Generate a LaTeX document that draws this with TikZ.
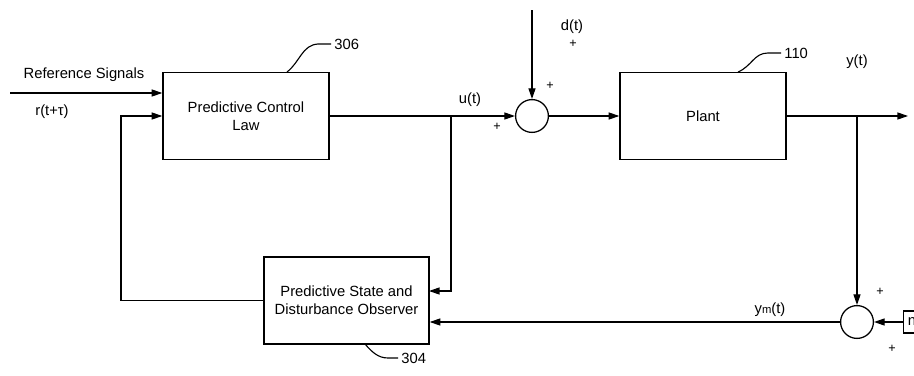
\documentclass[tikz,border=0pt]{standalone}
\usepackage{fontspec}
\setmainfont{Liberation Sans}
\usetikzlibrary{arrows.meta,positioning}

\begin{document}
\begin{tikzpicture}[x=0.025cm,y=-0.025cm,
		every node/.style={font=\fontsize{10.5}{12.5}\selectfont},
		block/.style={draw,line width=1pt,align=center,minimum width=4.15cm,minimum height=2.175cm},
		sumnode/.style={draw,circle,line width=0.9pt,minimum size=0.82cm,inner sep=0pt},
		sig/.style={line width=0.8pt,-{Triangle[length=7.5pt,width=5pt]}},
		tag/.style={line width=0.8pt},
		sgn/.style={inner sep=0pt,font=\fontsize{9}{10}\selectfont}]
	\clip (0,0) rectangle (914,375);
	% blocks
	\node[block] (pcl) at (246,116) {Predictive Control\\Law};
	\node[block] (plant) at (703,116) {Plant};
	\node[block, minimum width=4.125cm] (obs) at (346.5,300.5) {Predictive State and\\Disturbance Observer};
	\node[block, minimum width=0pt, minimum height=0.55cm, inner xsep=3pt, anchor=west] (nbox) at (903,322) {n};
	% summing junctions
	\node[sumnode] (sum1) at (532,116) {};
	\node[sumnode] (sum2) at (857,322) {};
	
	% reference input
	\coordinate (refin) at (10,93);
	\draw[sig] (refin) -- (pcl.west |- refin);
	\node at (84,75) {Reference Signals};
	\node at (52,112) {r(t+τ)};
	
	% control signal
	\coordinate (ubr) at (451,116);
	\coordinate (obsin) at (429,291);
	\draw[sig] (pcl.east) -- (sum1.west);
	\draw[sig] (ubr) |- (obsin);
	\node at (470,100) {u(t)};
	\node[sgn] at (497,127) {+};
	
	% disturbance
	\coordinate (din) at (532,10);
	\draw[sig] (din) -- (sum1.north);
	\node at (572,27) {d(t)};
	\node[sgn] at (573,44) {+};
	\node[sgn] at (550,86) {+};
	
	% plant and output
	\coordinate (yout) at (908,116);
	\coordinate (ybr) at (857,116);
	\draw[sig] (sum1.east) -- (plant.west);
	\draw[sig] (plant.east) -- (yout);
	\node at (857,62) {y(t)};
	
	% measurement
	\draw[sig] (ybr) -- (sum2.north);
	\draw[sig] (nbox.west) -- (sum2.east);
	\draw[sig] (sum2.west) -- (obs.east |- sum2);
	\node at (770,310) {y{\footnotesize m}(t)};
	\node[sgn] at (880,292) {+};
	\node[sgn] at (892,349) {+};
	
	% feedback from observer
	\coordinate (fbk) at (121,116);
	\draw[sig] (obs.west) -| (fbk) -- (pcl.west);
	
	% reference numerals
	\draw[tag] (287,72) .. controls (300,62) and (302,45) .. (318,44) -- (331,44) node[right,inner sep=2pt] {306};
	\draw[tag] (738,72) .. controls (752,66) and (754,53) .. (768,53) -- (781,53) node[right,inner sep=2pt] {110};
	\draw[tag] (365,344) .. controls (372,352) and (378,358) .. (388,358) -- (398,358) node[right,inner sep=2pt] {304};
\end{tikzpicture}
\end{document}
